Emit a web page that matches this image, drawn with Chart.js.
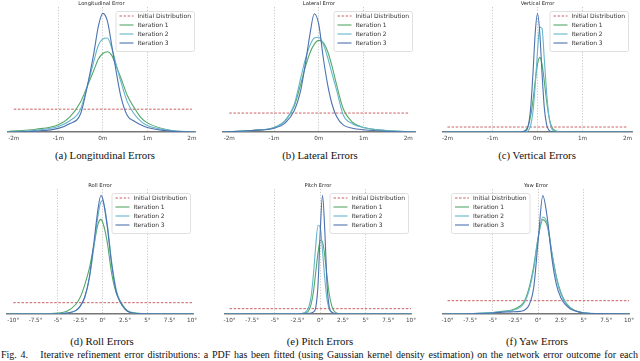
<!DOCTYPE html>
<html>
<head>
<meta charset="utf-8">
<script src="https://cdn.jsdelivr.net/npm/chart.js@4.4.1/dist/chart.umd.min.js"></script>
<style>
  body { margin: 0; background: #fff; }
  #fig { position: relative; width: 640px; height: 361px; overflow: hidden; background: #fff; }
  .panel { position: absolute; }
  .caption {
    position: absolute; width: 200px; text-align: center;
    font-family: "Liberation Serif", serif; font-size: 10.8px; line-height: 12px; color: #111;
  }
  #figCaption {
    position: absolute; left: 1px; top: 349px; width: 637px;
    font-family: "Liberation Serif", serif; font-size: 10px; line-height: 12px; color: #111;
    text-align: justify; text-align-last: justify;
  }
</style>
</head>
<body>
<div id="fig">
  <div id="figCaption">Fig. 4.&ensp;&nbsp; Iterative refinement error distributions: a PDF has been fitted (using Gaussian kernel density estimation) on the network error outcome for each</div>
</div>
<script>
const panelTitles = ["Longitudinal Error", "Lateral Error", "Vertical Error", "Roll Error", "Pitch Error", "Yaw Error"];
const captions = ["(a) Longitudinal Errors", "(b) Lateral Errors", "(c) Vertical Errors", "(d) Roll Errors", "(e) Pitch Errors", "(f) Yaw Errors"];
const seriesLabels = ["Initial Distribution", "Iteration 1", "Iteration 2", "Iteration 3"];

const meterTicks = [-2, -1, 0, 1, 2];
const meterTickLabels = ["-2m", "-1m", "0m", "1m", "2m"];
const meterGrid = [-1, 0, 1];
const degreeTicks = [-10, -7.5, -5, -2.5, 0, 2.5, 5, 7.5, 10];
const degreeTickLabels = ["-10°", "-7.5°", "-5°", "-2.5°", "0°", "2.5°", "5°", "7.5°", "10°"];
const degreeGrid = [-5, 0, 5];

// initial distribution: uniform over the sampled range
const initialMeterRange = [-2, 2];
const initialMeterPdf = 0.25;
const initialDegreeRange = [-10, 10];
const initialDegreePdf = 0.05;

// longitudinal (m)
const longX = [-2.13, -1.5, -1.0, -0.75, -0.5, -0.35, -0.2, -0.1, 0, 0.1, 0.2, 0.3, 0.4, 0.55, 0.7, 0.85, 1.0, 1.5, 2.07];
const longIter1 = [0.005, 0.03, 0.08, 0.16, 0.33, 0.5, 0.68, 0.8, 0.86, 0.88, 0.84, 0.72, 0.6, 0.4, 0.27, 0.16, 0.1, 0.02, 0];
const longIter2 = [0, 0.02, 0.06, 0.12, 0.25, 0.5, 0.78, 0.95, 1.02, 1.03, 0.92, 0.74, 0.56, 0.33, 0.2, 0.12, 0.07, 0.02, 0];
const longIter3 = [0, 0.01, 0.04, 0.09, 0.2, 0.5, 0.87, 1.16, 1.3, 1.22, 0.95, 0.66, 0.4, 0.18, 0.12, 0.08, 0.05, 0.01, 0];

// lateral (m)
const latX = [-2.14, -1.5, -1.0, -0.75, -0.55, -0.4, -0.3, -0.2, -0.1, 0, 0.1, 0.2, 0.3, 0.4, 0.55, 0.75, 1.0, 1.5, 2.15];
const latIter1 = [0, 0.02, 0.06, 0.15, 0.34, 0.64, 0.86, 1.04, 1.16, 1.21, 1.18, 1.06, 0.86, 0.62, 0.3, 0.13, 0.06, 0.02, 0];
const latIter2 = [0, 0.02, 0.06, 0.15, 0.36, 0.72, 0.96, 1.14, 1.24, 1.25, 1.16, 0.98, 0.76, 0.55, 0.22, 0.11, 0.06, 0.02, 0];
const latIter3 = [0, 0.02, 0.05, 0.12, 0.28, 0.56, 0.9, 1.28, 1.56, 1.42, 0.98, 0.62, 0.36, 0.2, 0.09, 0.05, 0.03, 0.01, 0];

// vertical (m)
const vertX = [-2.1, -1.0, -0.5, -0.35, -0.25, -0.2, -0.15, -0.1, -0.05, 0, 0.05, 0.1, 0.15, 0.2, 0.25, 0.3, 0.35, 0.5, 1.0, 2.1];
const vertIter1 = [0, 0, 0.01, 0.01, 0.13, 0.35, 0.83, 1.6, 2.57, 3.41, 3.75, 3.41, 2.57, 1.6, 0.83, 0.35, 0.13, 0.01, 0, 0];
const vertIter2 = [0, 0, 0, 0.005, 0.02, 0.09, 0.35, 1.04, 2.36, 4.04, 5.27, 5.2, 3.71, 2.05, 0.85, 0.27, 0.06, 0, 0, 0];
const vertIter3 = [0, 0, 0, 0.01, 0.08, 0.37, 1.25, 2.98, 5.0, 5.95, 5.0, 2.98, 1.25, 0.4, 0.1, 0.03, 0.01, 0, 0, 0];

// roll (deg)
const rollX = [-10.7, -7.5, -5, -4, -3, -2.5, -2, -1.5, -1, -0.5, -0.2, 0, 0.5, 1, 1.5, 2, 2.5, 3, 4, 5, 7.5, 10.1];
const rollIter1 = [0, 0.001, 0.004, 0.012, 0.043, 0.075, 0.13, 0.2, 0.3, 0.4, 0.418, 0.405, 0.32, 0.18, 0.095, 0.055, 0.025, 0.01, 0.003, 0.001, 0, 0];
const rollIter2 = [0, 0, 0.001, 0.004, 0.016, 0.036, 0.075, 0.155, 0.29, 0.44, 0.495, 0.5, 0.4, 0.23, 0.11, 0.05, 0.022, 0.008, 0.002, 0.001, 0, 0];
const rollIter3 = [0, 0, 0.001, 0.004, 0.015, 0.035, 0.075, 0.16, 0.31, 0.47, 0.523, 0.51, 0.39, 0.22, 0.1, 0.05, 0.022, 0.008, 0.002, 0.001, 0, 0];

// pitch (deg)
const pitchX = [-10.5, -7.5, -5, -3, -2, -1.5, -1.25, -1, -0.75, -0.5, -0.25, 0, 0.25, 0.5, 0.75, 1, 1.25, 1.5, 2, 3, 5, 7.5, 10];
const pitchIter1 = [0, 0, 0.001, 0.002, 0.005, 0.015, 0.035, 0.095, 0.21, 0.39, 0.57, 0.69, 0.675, 0.54, 0.35, 0.18, 0.08, 0.03, 0.005, 0.001, 0, 0, 0];
const pitchIter2 = [0, 0, 0, 0.001, 0.005, 0.03, 0.07, 0.17, 0.37, 0.64, 0.83, 0.81, 0.59, 0.33, 0.135, 0.045, 0.015, 0.005, 0.001, 0, 0, 0, 0];
const pitchIter3 = [0, 0, 0, 0, 0.002, 0.004, 0.006, 0.01, 0.02, 0.06, 0.27, 0.78, 1.11, 0.78, 0.27, 0.06, 0.02, 0.006, 0.002, 0, 0, 0, 0];

// yaw (deg)
const yawX = [-10.5, -7.5, -5, -4, -3, -2, -1.5, -1, -0.5, 0, 0.5, 1, 1.5, 2, 2.5, 3, 3.5, 4, 5, 7.5, 10];
const yawIter1 = [0, 0.001, 0.005, 0.01, 0.014, 0.03, 0.05, 0.1, 0.18, 0.29, 0.355, 0.33, 0.23, 0.14, 0.08, 0.045, 0.025, 0.014, 0.005, 0.001, 0];
const yawIter2 = [0, 0.001, 0.005, 0.009, 0.012, 0.025, 0.045, 0.09, 0.17, 0.29, 0.365, 0.34, 0.23, 0.135, 0.075, 0.042, 0.023, 0.013, 0.005, 0.001, 0];
const yawIter3 = [0, 0.001, 0.004, 0.007, 0.008, 0.01, 0.015, 0.035, 0.1, 0.28, 0.445, 0.36, 0.21, 0.11, 0.06, 0.035, 0.02, 0.012, 0.004, 0.001, 0];

const panels = [
  { xs: longX, iters: [longIter1, longIter2, longIter3], unit: "m" },
  { xs: latX, iters: [latIter1, latIter2, latIter3], unit: "m" },
  { xs: vertX, iters: [vertIter1, vertIter2, vertIter3], unit: "m" },
  { xs: rollX, iters: [rollIter1, rollIter2, rollIter3], unit: "deg" },
  { xs: pitchX, iters: [pitchIter1, pitchIter2, pitchIter3], unit: "deg" },
  { xs: yawX, iters: [yawIter1, yawIter2, yawIter3], unit: "deg" },
];

// where each plot sits on the page (plot area edges in px) and its axis ranges
const panelLayout = [
  { left: 8, right: 195, top: 0, capX: 105, capY: 149, xMin: -2.13, xMax: 2.07, yMax: 1.37, legend: "right", inset: 1 },
  { left: 223, right: 415, top: 0, capX: 320, capY: 149, xMin: -2.14, xMax: 2.15, yMax: 1.65, legend: "right", inset: 3 },
  { left: 443, right: 632, top: 0, capX: 537, capY: 149, xMin: -2.1, xMax: 2.1, yMax: 6.28, legend: "right", inset: 4 },
  { left: 7, right: 193, top: 182, capX: 102, capY: 335, xMin: -10.7, xMax: 10.1, yMax: 0.552, legend: "right", inset: 3 },
  { left: 225, right: 411, top: 182, capX: 320, capY: 335, xMin: -10.5, xMax: 10, yMax: 1.17, legend: "right", inset: 3 },
  { left: 443, right: 629, top: 182, capX: 537, capY: 335, xMin: -10.5, xMax: 10, yMax: 0.47, legend: "left", inset: 8 },
];

const colors = ["#C44E52", "#55A868", "#64B5CD", "#4C72B0"];
const padX = 14;
const plotHeight = 125;
const titleHeight = 7;
const axisHeight = 14;

Chart.defaults.font.family = "'DejaVu Sans', sans-serif";

// matplotlib style legend drawn inside the plot area
const insideLegend = {
  id: "insideLegend",
  afterDraw(chart, args, opts) {
    const { ctx, chartArea } = chart;
    ctx.save();
    ctx.font = "6px 'DejaVu Sans'";
    const textW = Math.max(...chart.data.datasets.map((ds) => ctx.measureText(ds.label).width));
    const w = textW + 25;
    const h = 40;
    const x = opts.side === "left" ? chartArea.left + opts.inset : chartArea.right - opts.inset - w;
    const y = chartArea.top + 4;

    ctx.fillStyle = "rgba(255,255,255,0.85)";
    ctx.strokeStyle = "#d8d8d8";
    ctx.lineWidth = 0.8;
    ctx.beginPath();
    ctx.roundRect(x + 0.5, y + 0.5, w, h, 2);
    ctx.fill();
    ctx.stroke();

    chart.data.datasets.forEach((ds, i) => {
      const ry = y + 5 + i * 9;
      ctx.strokeStyle = ds.borderColor;
      ctx.lineWidth = ds.borderWidth;
      ctx.setLineDash(ds.borderDash || []);
      ctx.beginPath();
      ctx.moveTo(x + 4, ry);
      ctx.lineTo(x + 18, ry);
      ctx.stroke();
      ctx.setLineDash([]);
      ctx.fillStyle = "#333";
      ctx.textBaseline = "middle";
      ctx.fillText(ds.label, x + 22, ry);
    });
    ctx.restore();
  },
};

function toPoints(xs, ys) {
  return xs.map((x, i) => ({ x: x, y: ys[i] }));
}

function makePanel(panel, layout, index) {
  const fig = document.querySelector("#fig");
  const plotWidth = layout.right - layout.left;

  const canvas = document.createElement("canvas");
  canvas.className = "panel";
  canvas.width = plotWidth + padX * 2;
  canvas.height = titleHeight + plotHeight + axisHeight;
  canvas.style.left = `${layout.left - padX}px`;
  canvas.style.top = `${layout.top}px`;
  fig.appendChild(canvas);

  const caption = document.createElement("div");
  caption.className = "caption";
  caption.textContent = captions[index];
  caption.style.left = `${layout.capX - 100}px`;
  caption.style.top = `${layout.capY}px`;
  fig.appendChild(caption);

  const isMeter = panel.unit === "m";
  const ticks = isMeter ? meterTicks : degreeTicks;
  const tickLabels = isMeter ? meterTickLabels : degreeTickLabels;
  const gridVals = isMeter ? meterGrid : degreeGrid;
  const initRange = isMeter ? initialMeterRange : initialDegreeRange;
  const initPdf = isMeter ? initialMeterPdf : initialDegreePdf;

  const datasets = [
    {
      label: seriesLabels[0],
      data: toPoints(initRange, [initPdf, initPdf]),
      borderColor: colors[0],
      borderWidth: 0.9,
      borderDash: [2.5, 1.6],
      order: 4,
    },
  ];
  panel.iters.forEach((ys, i) => {
    datasets.push({
      label: seriesLabels[i + 1],
      data: toPoints(panel.xs, ys),
      borderColor: colors[i + 1],
      borderWidth: 1.1,
      cubicInterpolationMode: "monotone",
      order: 3 - i,
    });
  });

  return new Chart(canvas.getContext("2d"), {
    type: "line",
    data: { datasets },
    options: {
      responsive: false,
      animation: false,
      devicePixelRatio: 1,
      layout: { padding: { left: padX, right: padX, top: 0, bottom: 0 } },
      elements: { point: { radius: 0 } },
      plugins: {
        legend: { display: false },
        tooltip: { enabled: false },
        title: {
          display: true,
          text: panelTitles[index],
          color: "#222",
          font: { size: 5.2, weight: "normal", lineHeight: titleHeight / 5.2 },
          padding: 0,
        },
        insideLegend: { side: layout.legend, inset: layout.inset },
      },
      scales: {
        x: {
          type: "linear",
          min: layout.xMin,
          max: layout.xMax,
          afterBuildTicks: (axis) => {
            axis.ticks = ticks.map((v) => ({ value: v }));
          },
          afterFit: (axis) => {
            axis.height = axisHeight;
          },
          ticks: {
            callback: (value) => tickLabels[ticks.indexOf(value)],
            font: { size: 5.7 },
            color: "#444",
            padding: 3,
            maxRotation: 0,
            autoSkip: false,
          },
          grid: {
            drawTicks: false,
            lineWidth: 0.8,
            color: (c) => (c.tick && gridVals.includes(c.tick.value) ? "#bdbdbd" : "rgba(0,0,0,0)"),
          },
          border: { display: true, color: "#777", width: 1.5, dash: [1.2, 1.6] },
        },
        y: { display: false, min: 0, max: layout.yMax },
      },
    },
    plugins: [insideLegend],
  });
}

panels.forEach((panel, i) => makePanel(panel, panelLayout[i], i));
</script>
</body>
</html>
